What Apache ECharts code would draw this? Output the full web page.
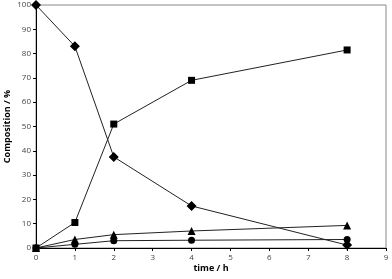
<!DOCTYPE html>
<html><head><meta charset="utf-8">
<script src="https://cdn.jsdelivr.net/npm/echarts@6/dist/echarts.min.js"></script>
<style>html,body{margin:0;padding:0;background:#fff}#c{width:392px;height:279px}</style>
</head><body><div id="c"></div>
<script>
const times = [0, 1, 2, 4, 8];
const diamond = [100, 83, 37.5, 17.3, 1.2];
const square = [0, 10.5, 51, 69, 81.5];
const triangle = [0, 3.5, 5.5, 7, 9.3];
const circle = [0, 1.5, 3, 3.2, 3.5];

function pairs(v){ return times.map((t,i)=>[t,v[i]]); }
function ser(name, v, symbol, size){
  return {name, type:'line', data:pairs(v), symbol, symbolSize:size,
    lineStyle:{color:'#222', width:1}, itemStyle:{color:'#000'}, animation:false};
}
const chart = echarts.init(document.getElementById('c'));
chart.setOption({
  animation:false,
  grid:{left:36, right:6, top:5, bottom:31, show:true, borderColor:'#888', borderWidth:1,
    containLabel:false, outerBoundsMode:'none'},
  xAxis:{type:'value', min:0, max:9, interval:1,
    name:'time / h', nameLocation:'middle', nameGap:16, nameMoveOverlap:false,
    nameTextStyle:{fontFamily:'Open Sans', fontWeight:'bold', fontSize:9, color:'#000'},
    axisLine:{lineStyle:{color:'#000'}}, axisTick:{show:true, length:3, lineStyle:{color:'#000'}},
    splitLine:{show:false},
    axisLabel:{fontSize:8, color:'#444', margin:6, fontFamily:'Open Sans'}},
  yAxis:{type:'value', min:0, max:100, interval:10,
    name:'Composition / %', nameLocation:'middle', nameGap:24, nameMoveOverlap:false,
    nameTextStyle:{fontFamily:'Open Sans', fontWeight:'bold', fontSize:9, color:'#000'},
    axisLine:{show:true, lineStyle:{color:'#000'}}, axisTick:{show:true, length:3, lineStyle:{color:'#000'}},
    splitLine:{show:false},
    axisLabel:{fontSize:8, color:'#444', margin:5, fontFamily:'Open Sans'}},
  series:[
    ser('diamond', diamond, 'diamond', 10),
    ser('square', square, 'rect', 7),
    ser('triangle', triangle, 'triangle', 8),
    ser('circle', circle, 'circle', 7)
  ]
});
</script></body></html>
